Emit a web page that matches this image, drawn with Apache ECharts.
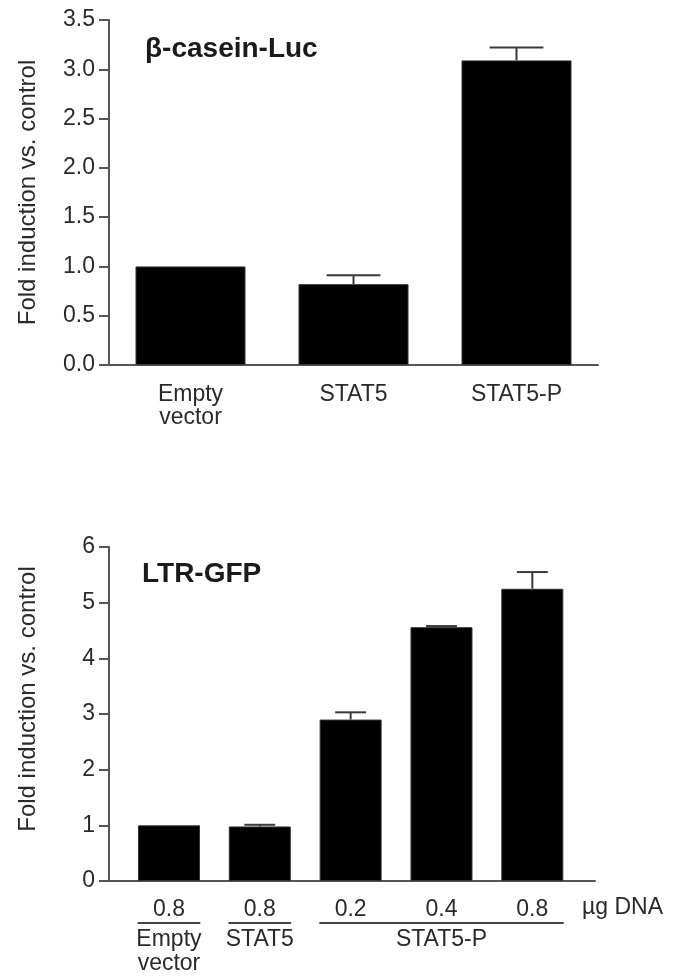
<!DOCTYPE html>
<html>
<head>
<meta charset="utf-8">
<script src="https://cdn.jsdelivr.net/npm/echarts@6/dist/echarts.min.js"></script>
<style>
html,body{margin:0;padding:0;background:#fff;}
#c{width:683px;height:980px;}
</style>
</head>
<body>
<div id="c"></div>
<script>
// ---- Top panel data ----
const topCategories = ['Empty\nvector', 'STAT5', 'STAT5-P'];
const topValues = [1.0, 0.82, 3.09];
const topErrors = [0, 0.09, 0.13];
const topTicks = [0, 0.5, 1.0, 1.5, 2.0, 2.5, 3.0, 3.5];

// ---- Bottom panel data ----
const botIndex = [0, 1, 2, 3, 4];
const botDoses = ['0.8', '0.8', '0.2', '0.4', '0.8'];
const botValues = [1.0, 0.98, 2.90, 4.56, 5.25];
const botErrors = [0, 0.03, 0.13, 0.02, 0.30];
const botGroups = [
  {from: 0, to: 0, label: 'Empty\nvector'},
  {from: 1, to: 1, label: 'STAT5'},
  {from: 2, to: 4, label: 'STAT5-P'}
];
const botTicks = [0, 1, 2, 3, 4, 5, 6];

const FONT = "'Liberation Sans', Arial, Helvetica, sans-serif";
const TXT = '#2a2a2a';
const AX = '#555';

function errRender(capFrac) {
  return function (params, api) {
    const i = api.value(0), v = api.value(1), e = api.value(2);
    if (!e) return null;
    const base = api.coord([i, v]);
    const top = api.coord([i, v + e]);
    const w = api.size([1, 0])[0] * capFrac;
    return {
      type: 'group',
      children: [
        {type: 'line', shape: {x1: base[0], y1: base[1], x2: top[0], y2: top[1]}, style: {stroke: '#3a3a3a', lineWidth: 2}},
        {type: 'line', shape: {x1: top[0] - w / 2, y1: top[1], x2: top[0] + w / 2, y2: top[1]}, style: {stroke: '#3a3a3a', lineWidth: 2}}
      ]
    };
  };
}

const chart = echarts.init(document.getElementById('c'), null, {renderer: 'canvas'});

const yAxisCommon = {
  type: 'value',
  name: 'Fold induction vs. control',
  nameLocation: 'middle',
  nameTextStyle: {fontFamily: FONT, fontSize: 24, color: TXT},
  axisLine: {show: true, onZero: false, lineStyle: {color: AX, width: 2}},
  axisTick: {show: true, inside: false, length: 10, lineStyle: {color: AX, width: 2}},
  splitLine: {show: false},
  axisLabel: {fontFamily: FONT, fontSize: 23, color: TXT, margin: 14}
};

chart.setOption({
  animation: false,
  backgroundColor: '#fff',
  title: [
    {text: 'β-casein-Luc', left: 140, top: 30, textStyle: {fontFamily: FONT, fontSize: 28, fontWeight: 'bold', color: '#1a1a1a'}},
    {text: 'LTR-GFP', left: 137, top: 555, textStyle: {fontFamily: FONT, fontSize: 28, fontWeight: 'bold', color: '#1a1a1a'}}
  ],
  grid: [
    {left: 109, top: 20, width: 489, height: 345},
    {left: 109, top: 547, width: 486, height: 334}
  ],
  xAxis: [
    {
      type: 'category', gridIndex: 0, data: topCategories, boundaryGap: true,
      axisLine: {show: true, lineStyle: {color: AX, width: 2}},
      axisTick: {show: false},
      axisLabel: {fontFamily: FONT, fontSize: 23, color: TXT, margin: 18, lineHeight: 23}
    },
    {
      type: 'value', gridIndex: 1, min: -0.66, max: 4.69,
      axisLine: {show: true, onZero: false, lineStyle: {color: AX, width: 2}},
      axisTick: {show: false},
      splitLine: {show: false},
      axisLabel: {
        customValues: botIndex,
        formatter: function (v) { return botDoses[Math.round(v)]; },
        fontFamily: FONT, fontSize: 23, color: TXT, margin: 17
      }
    }
  ],
  yAxis: [
    Object.assign({}, yAxisCommon, {
      gridIndex: 0, min: 0, max: 3.5, interval: 0.5, nameGap: 69,
      axisLabel: Object.assign({}, yAxisCommon.axisLabel, {formatter: function (v) { return v.toFixed(1); }})
    }),
    Object.assign({}, yAxisCommon, {
      gridIndex: 1, min: 0, max: 6, interval: 1, nameGap: 69,
      nameTextStyle: Object.assign({}, yAxisCommon.nameTextStyle, {padding: [0, 0, 0, 30]})
    })
  ],
  graphic: [
    {type: 'text', left: 582, top: 896, style: {text: 'µg DNA', fontFamily: FONT, fontSize: 23, fill: TXT}}
  ],
  series: [
    {
      type: 'bar', xAxisIndex: 0, yAxisIndex: 0, data: topValues, barWidth: 110,
      itemStyle: {color: '#000', borderColor: '#333', borderWidth: 1}
    },
    {
      type: 'custom', xAxisIndex: 0, yAxisIndex: 0, z: 3,
      data: topValues.map(function (v, i) { return [i, v, topErrors[i]]; }),
      renderItem: errRender(0.33)
    },
    {
      type: 'bar', xAxisIndex: 1, yAxisIndex: 1, barWidth: 62,
      data: botValues.map(function (v, i) { return [botIndex[i], v]; }),
      itemStyle: {color: '#000', borderColor: '#333', borderWidth: 1}
    },
    {
      type: 'custom', xAxisIndex: 1, yAxisIndex: 1, z: 3,
      data: botValues.map(function (v, i) { return [botIndex[i], v, botErrors[i]]; }),
      renderItem: errRender(0.34)
    },
    {
      type: 'custom', xAxisIndex: 1, yAxisIndex: 1, clip: false, silent: true,
      data: botGroups.map(function (g) { return [g.from, g.to]; }),
      renderItem: function (params, api) {
        const g = botGroups[params.dataIndex];
        const p0 = api.coord([api.value(0), 0]);
        const p1 = api.coord([api.value(1), 0]);
        const half = api.size([1, 0])[0] * 0.345;
        const yLine = p0[1] + 42;
        return {
          type: 'group',
          children: [
            {type: 'line', shape: {x1: p0[0] - half, y1: yLine, x2: p1[0] + half, y2: yLine}, style: {stroke: '#444', lineWidth: 2}},
            {type: 'text', x: (p0[0] + p1[0]) / 2, y: yLine + 5,
             style: {text: g.label, textAlign: 'center', textVerticalAlign: 'top', fontFamily: FONT, fontSize: 23, lineHeight: 24, fill: TXT}}
          ]
        };
      }
    }
  ]
});
</script>
</body>
</html>
